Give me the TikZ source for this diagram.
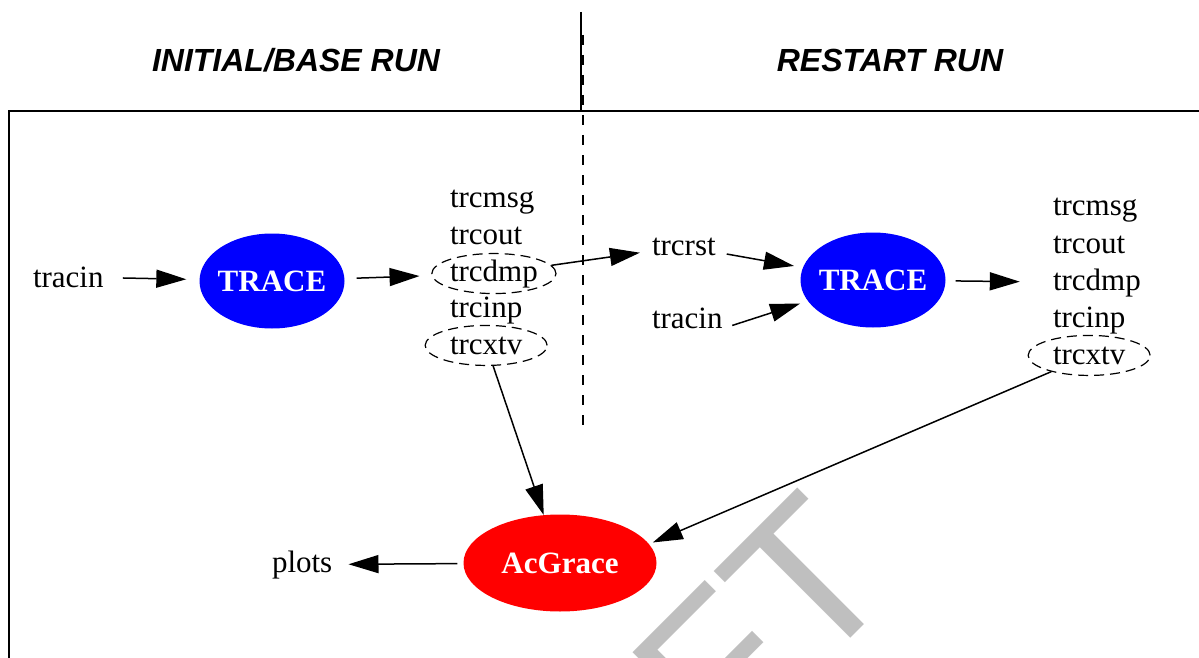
\documentclass[tikz,border=0pt]{standalone}
\usepackage{fontspec}
\setmainfont{Liberation Serif}
\setsansfont{Liberation Sans}
\usetikzlibrary{shapes.geometric,arrows.meta}

\begin{document}
\begin{tikzpicture}[x=1pt,y=-1pt]

    \tikzset{txt/.style={font=\fontsize{31}{37}\selectfont,inner sep=0pt,anchor=text}}
    \tikzset{prog/.style={shape=ellipse,inner xsep=-8pt,inner ysep=0pt,text=white,font=\fontsize{31}{37}\selectfont\bfseries}}
    \tikzset{file/.style={txt,shape=ellipse,draw,line width=1.2pt,dash pattern=on 10pt off 6pt,minimum width=122pt,minimum height=40pt}}
    \tikzset{arr/.style={-{Triangle[length=30pt,width=18pt]},line width=1.5pt}}
    \tikzset{head/.style={font=\fontsize{32}{38}\selectfont\sffamily\bfseries\itshape}}

    \useasboundingbox (0,0) rectangle (1199,658);
    \clip (0,0) rectangle (1199,658);

    \node[text=black!25,font=\fontsize{209}{209}\selectfont\sffamily,inner sep=0pt,rotate=45,anchor=base east] (wm) at (903,586) {DRAFT};

    \draw[line width=2.5pt] (9,658) -- (9,111) -- (1199,111);
    \draw[line width=2pt] (581,12) -- (581,111);
    \draw[line width=2pt,dash pattern=on 10pt off 10pt] (583,35) -- (583,435);

    \node[head] (hBase) at (296,60) {INITIAL/BASE RUN};
    \node[head] (hRest) at (890,60) {RESTART RUN};

    \node[txt] (in1) at (33,287) {tracin};
    \node[prog,fill=blue,minimum width=145pt,minimum height=95pt] (tr1) at (272,281) {TRACE};
    \node[txt] (msg1) at (450,207) {trcmsg};
    \node[txt] (out1) at (450,244) {trcout};
    \node[file] (dmp1) at (450,281) {trcdmp};
    \node[txt] (inp1) at (450,317) {trcinp};
    \node[file] (xtv1) at (450,354) {trcxtv};

    \node[txt] (rst) at (652,255) {trcrst};
    \node[txt] (in2) at (652,328) {tracin};
    \node[prog,fill=blue,minimum width=145pt,minimum height=95pt] (tr2) at (873,280) {TRACE};
    \node[txt] (msg2) at (1053,215) {trcmsg};
    \node[txt] (out2) at (1053,253) {trcout};
    \node[txt] (dmp2) at (1053,290) {trcdmp};
    \node[txt] (inp2) at (1053,327) {trcinp};
    \node[file] (xtv2) at (1053,364) {trcxtv};

    \node[prog,fill=red,minimum width=193pt,minimum height=97pt] (acg) at (560,563) {AcGrace};
    \node[txt] (plots) at (272,572) {plots};

    \begin{scope}[every path/.style={arr}]
        \draw[shorten <=19pt,shorten >=13pt] (in1) -- (tr1);
        \draw[shorten <=12pt,shorten >=12pt] (tr1) -- (dmp1);
        \draw[shorten >=12pt] (dmp1) -- (rst);
        \draw[shorten <=11pt,shorten >=9pt] (rst) -- (tr2);
        \draw[shorten <=10pt,shorten >=8pt] (in2.south east) -- (tr2);
        \draw[shorten <=10pt,shorten >=33pt] (tr2) -- (dmp2);
        \draw (xtv1) -- (acg);
        \draw[shorten >=4pt] (xtv2) -- (acg.12);
        \draw[shorten <=6pt,shorten >=16pt] (acg) -- (plots);
    \end{scope}

\end{tikzpicture}
\end{document}
